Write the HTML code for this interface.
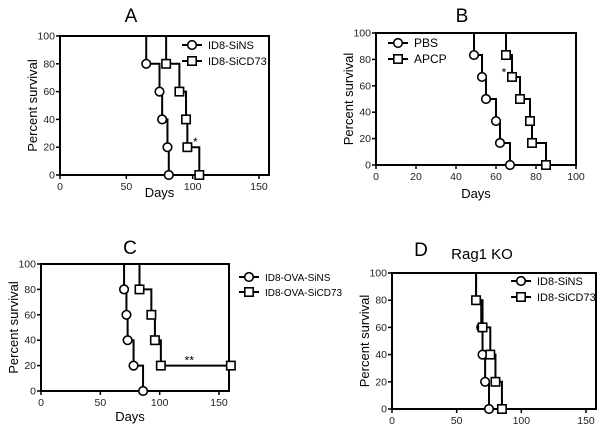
<!DOCTYPE html>
<html><head><meta charset="utf-8"><style>
body{margin:0;background:#fff;}
svg{font-family:"Liberation Sans",Arial,sans-serif;}
</style></head><body>
<svg id="c" width="600" height="430" viewBox="0 0 600 430"></svg>
<script>
// Panel A data
const aDaysNS=[65,75,77,81,82];
const aPctNS=[80,60,40,20,0];
const aDaysCD=[80,90,95,96,105];
const aPctCD=[80,60,40,20,0];
// Panel B data
const bDaysPBS=[49,53,55,60,62,67];
const bPctPBS=[83.3,66.7,50,33.3,16.7,0];
const bDaysAPCP=[65,68,72,77,78,85];
const bPctAPCP=[83.3,66.7,50,33.3,16.7,0];
// Panel C data
const cDaysNS=[70,72,73,78,86];
const cPctNS=[80,60,40,20,0];
const cDaysCD=[83,93,96,101];
const cPctCD=[80,60,40,20];
const cEndCD=160;
// Panel D data
const dDaysNS=[65,69,70,72,75];
const dPctNS=[80,60,40,20,0];
const dDaysCD=[65,70,76,80,85];
const dPctCD=[80,60,40,20,0];
const ticksY=[0,20,40,60,80,100];
const ticksA=[0,50,100,150];
const ticksB=[0,20,40,60,80,100];

const svg=document.getElementById('c');
const NS='http://www.w3.org/2000/svg';
function mk(tag,at,parent){const e=document.createElementNS(NS,tag);for(const k in at)e.setAttribute(k,at[k]);(parent||svg).appendChild(e);return e;}
function txt(s,at,parent){const e=mk('text',at,parent);e.textContent=s;return e;}

function panel(p){
  const g=mk('g',{});
  
  
  const sx=v=>p.x0+(v-p.xmin)*(p.x1-p.x0)/(p.xmax-p.xmin);
  const sy=v=>p.yb+(p.yt-p.yb)*v/100;
  const box=mk('rect',{x:p.x0,y:p.yt,width:p.bx-p.x0,height:p.yb-p.yt,fill:'none',stroke:'#000','stroke-width':2},g);
  
  
  ticksY.forEach(t=>{
    mk('line',{x1:p.x0-4,x2:p.x0,y1:sy(t),y2:sy(t),stroke:'#000','stroke-width':1.5},g);
    const l=txt(t,{x:p.x0-5,y:sy(t)+3.5,'font-size':10.5,'text-anchor':'end',fill:'#222'},g);
    
    
  });
  p.xt.forEach(t=>{
    mk('line',{x1:sx(t),x2:sx(t),y1:p.yb,y2:p.yb+4,stroke:'#000','stroke-width':1.5},g);
    const l=txt(t,{x:sx(t),y:p.yb+15,'font-size':10.5,'text-anchor':'middle',fill:'#222'},g);
    
    
  });
  const yl=txt('Percent survival',{x:0,y:0,'font-size':13,'text-anchor':'middle',transform:`translate(${p.x0-23},${(p.yt+p.yb)/2}) rotate(-90)`},g);
  
  
  if(p.days){const xl=txt('Days',{x:(p.x0+p.x1)/2+(p.dx||0),y:p.days,'font-size':13,'text-anchor':'middle'},g);
    
    }
  const tl=txt(p.title,{x:p.tx,y:p.ty,'font-size':19,'text-anchor':'middle'},g);
  
  
  p.series.forEach(s=>{
    let d=`M${p.x0},${sy(100)}`;let prev=100;
    s.days.forEach((dd,i)=>{d+=`L${sx(dd)},${sy(prev)}L${sx(dd)},${sy(s.pct[i])}`;prev=s.pct[i];});
    if(s.end!==undefined)d+=`L${sx(s.end)},${sy(prev)}`;
    const pa=mk('path',{d:d,fill:'none',stroke:'#000','stroke-width':2},g);
    
    
    const pts=s.days.map((dd,i)=>[dd,s.pct[i]]);
    if(s.end!==undefined)pts.push([s.end,prev]);
    pts.forEach(([dd,v])=>{
      const m=marker(s.shape,sx(dd),sy(v),g);
      
      
    });
  });
  if(p.legend){p.legend.items.forEach((it,i)=>{
    const lx=p.legend.x,ly=p.legend.y+i*p.legend.dy;
    const lg=mk('g',{},g);
    
    
    mk('line',{x1:lx,x2:lx+20,y1:ly,y2:ly,stroke:'#000','stroke-width':2},lg);
    marker(it[1],lx+10,ly,lg);
    txt(it[0],{x:lx+26,y:ly+4,'font-size':p.legend.fs||11},lg);
  });}
  (p.stars||[]).forEach(s=>{const st=txt(s[0],{x:sx(s[1]),y:sy(s[2]),'font-size':12,'text-anchor':'middle'},g);
    
    });
}
function marker(shape,x,y,g){
  if(shape==='c')return mk('circle',{cx:x,cy:y,r:4.3,fill:'#fff',stroke:'#000','stroke-width':1.6},g);
  return mk('rect',{x:x-4.2,y:y-4.2,width:8.4,height:8.4,fill:'#fff',stroke:'#000','stroke-width':1.6},g);
}
panel({name:'panel-a',title:'A',tx:131,ty:22,x0:60,x1:259,bx:269,xmin:0,xmax:150,yt:36,yb:175,xt:ticksA,days:197,
  series:[{name:'sins',shape:'c',days:aDaysNS,pct:aPctNS},{name:'sicd73',shape:'s',days:aDaysCD,pct:aPctCD}],
  legend:{x:182,y:45,dy:16,items:[['ID8-SiNS','c'],['ID8-SiCD73','s']]},stars:[['*',102,21]]});
panel({name:'panel-b',title:'B',tx:462,ty:22,x0:376,x1:576,bx:576,xmin:0,xmax:100,yt:33,yb:165,xt:ticksB,days:198,
  series:[{name:'pbs',shape:'c',days:bDaysPBS,pct:bPctPBS},{name:'apcp',shape:'s',days:bDaysAPCP,pct:bPctAPCP}],
  legend:{x:388,y:43,dy:16,items:[['PBS','c'],['APCP','s']],fs:12},stars:[['*',64,67]]});
panel({name:'panel-c',title:'C',tx:130,ty:254,x0:41,x1:219,bx:229,xmin:0,xmax:150,yt:264,yb:391,xt:ticksA,days:421,
  series:[{name:'ova-sins',shape:'c',days:cDaysNS,pct:cPctNS},{name:'ova-sicd73',shape:'s',days:cDaysCD,pct:cPctCD,end:cEndCD}],
  legend:{x:239,y:277,dy:15,items:[['ID8-OVA-SiNS','c'],['ID8-OVA-SiCD73','s']],fs:10},stars:[['**',125,21]]});
panel({name:'panel-d',title:'D',tx:421,ty:256,x0:392,x1:586,bx:596,xmin:0,xmax:150,yt:273,yb:409,xt:ticksA,
  series:[{name:'rag-sins',shape:'c',days:dDaysNS,pct:dPctNS},{name:'rag-sicd73',shape:'s',days:dDaysCD,pct:dPctCD}],
  legend:{x:511,y:281,dy:16,items:[['ID8-SiNS','c'],['ID8-SiCD73','s']]}});
const rk=txt('Rag1 KO',{x:482,y:259,'font-size':15,'text-anchor':'middle'});


</script>
</body></html>
